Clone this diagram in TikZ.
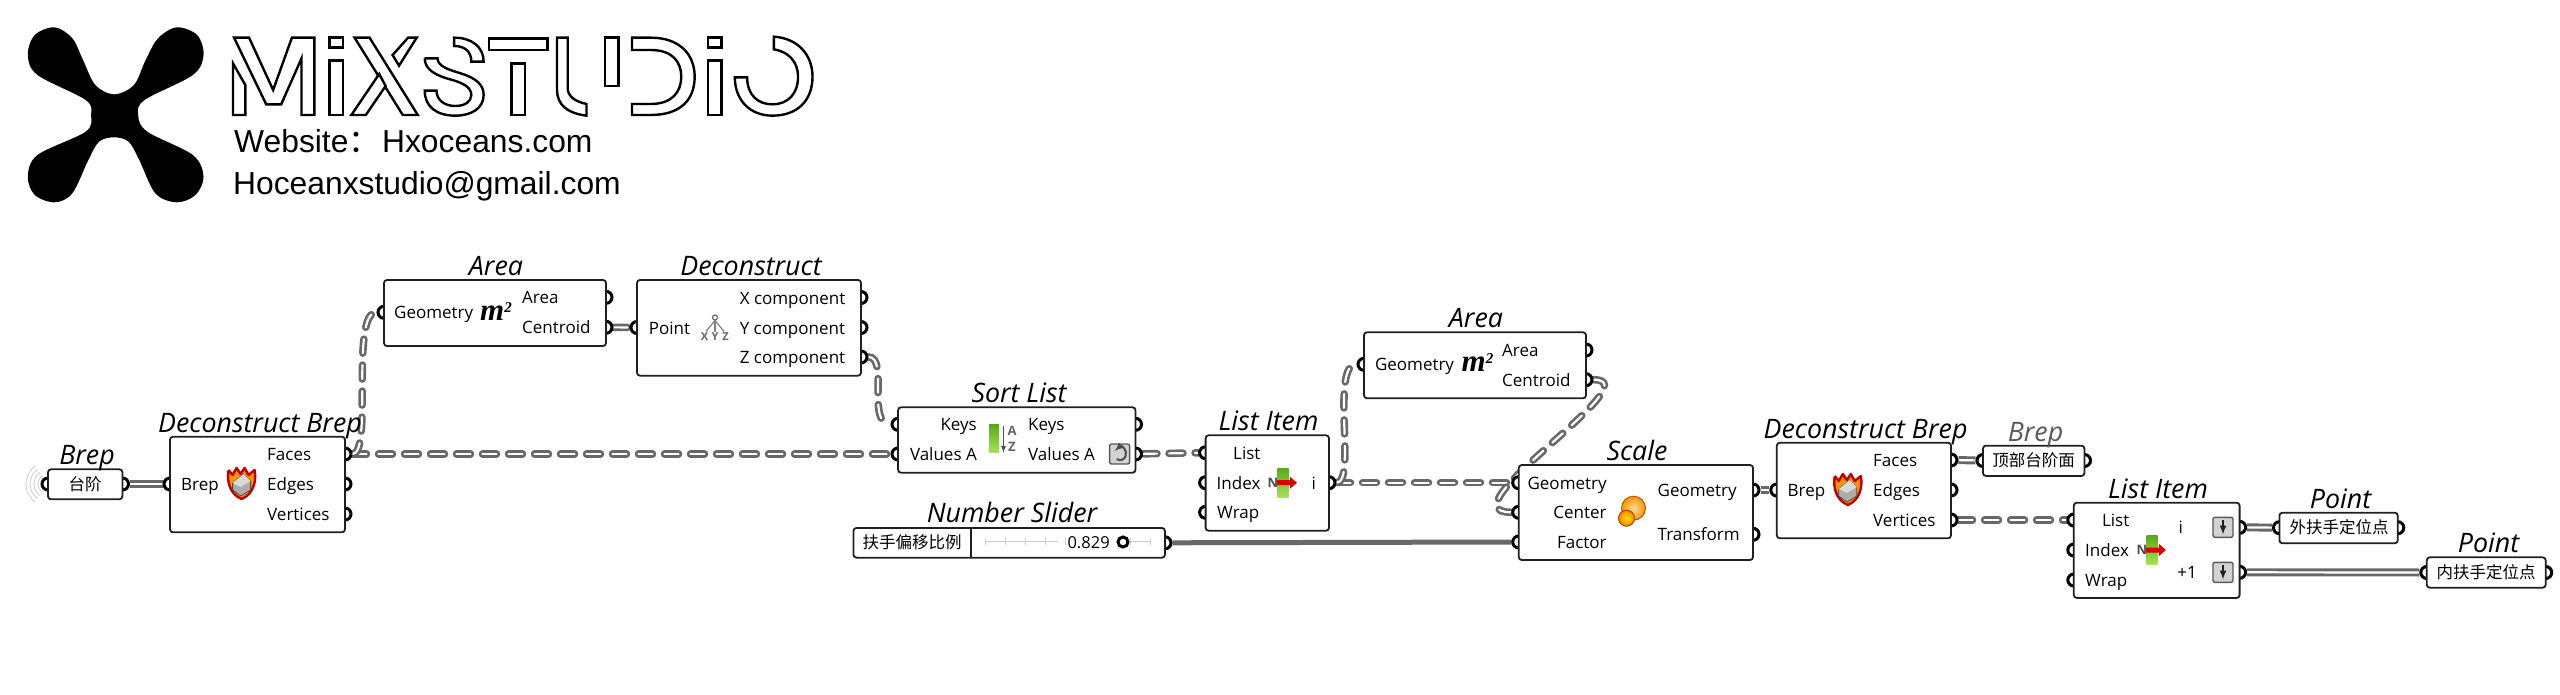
\documentclass[tikz,border=0pt]{standalone}
\usepackage{fontspec}
\setmainfont{Open Sans}
\newfontfamily\cjkfont{Noto Sans CJK SC}
\newfontfamily\webfont{Liberation Sans}
\newfontfamily\areafont{Liberation Serif}
\usetikzlibrary{backgrounds}
\definecolor{wiregray}{HTML}{686868}
\definecolor{boxline}{HTML}{202020}
\definecolor{bardark}{HTML}{5AA81A}
\definecolor{barlight}{HTML}{A8E25A}
\tikzset{>=latex}
\tikzset{
  compbox/.style={draw=boxline, fill=white, line width=1.8pt, rounded corners=3pt, inner sep=0pt},
  portnode/.style={circle, draw=black, fill=white, line width=3pt, minimum size=12pt, inner sep=0pt},
  portl/.style={anchor=west, inner sep=0pt, text height=15pt, text depth=2pt, font=\fontsize{17}{17}\selectfont},
  portr/.style={anchor=east, inner sep=0pt, text height=15pt, text depth=2pt, font=\fontsize{17}{17}\selectfont},
  paramtxt/.style={inner sep=0pt, font=\cjkfont\fontsize{16.5}{17}\selectfont},
  titlelbl/.style={inner sep=0pt, text height=25pt, text depth=3pt, font=\itshape\fontsize{26.8}{27}\selectfont},
  weblbl/.style={anchor=west, inner sep=0pt, font=\webfont\fontsize{31.8}{32}\selectfont},
  logopart/.style={draw=black, fill=white, line width=2.4pt, line join=miter},
  listwire/.style={draw=wiregray, line width=7.5pt, line cap=round, dash pattern=on 14pt off 12pt,
    postaction={draw=white, line width=2.2pt, line cap=round, dash pattern=on 14pt off 12pt}},
  itemwire/.style={draw=wiregray, line width=8pt, postaction={draw=white, line width=2.2pt}},
  sliderwire/.style={draw=wiregray, line width=5pt},
  btnbox/.pic={
    \fill[draw=gray!70!black, fill=gray!35, rounded corners=2pt, line width=1.4pt] (-10,-10) rectangle (10,10);
  },
  downbtn/.pic={
    \pic {btnbox};
    \draw[->, gray!25!black, line width=2pt] (0,-7) -- (0,7);
  },
  backbtn/.pic={
    \pic {btnbox};
    \draw[<-, gray!60!black, line width=2pt] (-5,-3) .. controls (2,-9) and (8,-4) .. (6,2) .. controls (5,6) and (0,7) .. (-3,5);
  },
  flameicon/.pic={
    \fill[draw=red!75!black, fill=orange!85!yellow, line width=2.4pt, line join=round] (-13,-14) -- (-9,-9) -- (-5,-16) -- (-1,-10) -- (3,-16) -- (7,-9) -- (13,-14) .. controls (15,-3) and (12,10) .. (0,15) .. controls (-12,10) and (-15,-3) .. (-13,-14);
    \fill[draw=black!70, fill=gray!65, line width=0.8pt] (-9,-1) -- (2,-10) -- (9,-3) -- (9,6) -- (-1,12) -- (-9,6) -- cycle;
    \fill[white!70!gray] (-9,-1) -- (2,-10) -- (9,-3) -- (-1,3) -- cycle;
  },
  listicon/.pic={
    \shade[top color=bardark, bottom color=barlight] (-5.5,-14.5) rectangle (5.5,14.5);
    \fill[red!85!black] (-6,-2.5) -- (7,-2.5) -- (7,-6) -- (14,0) -- (7,6) -- (7,2.5) -- (-6,2.5) -- cycle;
    \node[inner sep=0pt, text=black!70, font=\bfseries\fontsize{13}{13}\selectfont] (nmark) at (-10,0) {N};
  },
  sorticon/.pic={
    \shade[top color=bardark, bottom color=barlight] (-13,-14) rectangle (-3,14);
    \draw[->, black!70, line width=1.2pt] (1.5,-13) -- (1.5,14);
    \node[inner sep=0pt, text=black!60, font=\bfseries\fontsize{13}{13}\selectfont] (amark) at (10,-8) {A};
    \node[inner sep=0pt, text=black!60, font=\bfseries\fontsize{13}{13}\selectfont] (zmark) at (10,8) {Z};
  },
  xyzicon/.pic={
    \draw[gray, line width=1.2pt] (0,-7) -- (-9,4);
    \draw[gray, line width=1.2pt] (0,-7) -- (0,4);
    \draw[gray, line width=1.2pt] (0,-7) -- (9,4);
    \filldraw[draw=black!60, fill=white, line width=1.2pt] (0,-10) circle[radius=2.5pt];
    \node[inner sep=0pt, text=black!60, font=\bfseries\fontsize{11}{11}\selectfont] (xmark) at (-10.5,9) {X};
    \node[inner sep=0pt, text=black!60, font=\bfseries\fontsize{11}{11}\selectfont] (ymark) at (0,9) {Y};
    \node[inner sep=0pt, text=black!60, font=\bfseries\fontsize{11}{11}\selectfont] (zymark) at (10.5,9) {Z};
  },
  scaleicon/.pic={
    \shade[inner color=yellow!30!orange!40, outer color=orange!85!yellow] (2,-3.5) circle[radius=12pt];
    \draw[orange!70!black, line width=1pt] (2,-3.5) circle[radius=12pt];
    \shade[inner color=yellow!80!orange, outer color=orange] (-5,6.5) circle[radius=8pt];
    \draw[orange!60!black, line width=1pt] (-5,6.5) circle[radius=8pt];
  },
  sqmark/.style={inner sep=0pt, font=\areafont\bfseries\itshape\fontsize{31}{31}\selectfont}
}

\begin{document}
\begin{tikzpicture}[x=1pt, y=-1pt]
\useasboundingbox (0,0) rectangle (2560,694);

% Logo
\begin{scope}[x=0.5356pt, y=-0.3333pt]
  \fill[black] plot[smooth cycle, tension=0.55] coordinates {(213,283) (250,255) (272,180) (295,115) (330,82) (368,105) (380,165) (360,225) (270,300) (258,345) (275,395) (360,465) (380,530) (365,585) (330,607) (290,580) (260,480) (240,425) (213,412) (185,425) (165,480) (135,580) (102,607) (65,585) (52,530) (70,465) (160,395) (170,345) (160,300) (70,225) (52,165) (65,105) (102,82) (135,115) (155,180) (178,255)};
  % letters
  \draw[logopart] (437,113) -- (465,113) -- (510,270) -- (545,113) -- (587,113) -- (587,345) -- (563,345) -- (563,175) -- (525,313) -- (497,313) -- cycle;
  \draw[logopart] (435,190) -- (458,255) -- (458,345) -- (435,345) -- cycle;
  \foreach \x in {615, 1322}{
    \draw[logopart] (\x,113) rectangle (\x+25,143);
    \draw[logopart] (\x,182) rectangle (\x+25,345);
  }
  \draw[logopart] (662,113) -- (690,113) -- (780,345) -- (752,345) -- cycle;
  \draw[logopart] (708,222) -- (720,258) -- (683,345) -- (656,345) -- cycle;
  \draw[logopart] (762,113) -- (778,113) -- (745,197) -- (733,165) -- cycle;
  \draw[logopart] (848,113) .. controls (880,113) and (903,140) .. (903,185) -- (880,185) .. controls (880,155) and (868,138) .. (848,138) -- cycle;
  \draw[logopart] (793,175) -- (817,175) .. controls (817,200) and (840,210) .. (860,220) .. controls (890,235) and (903,255) .. (903,285) .. controls (903,325) and (880,347) .. (850,347) .. controls (815,347) and (793,320) .. (793,272) -- (815,272) .. controls (815,300) and (830,318) .. (850,318) .. controls (868,318) and (880,305) .. (880,285) .. controls (880,262) and (865,250) .. (845,240) .. controls (815,228) and (793,210) .. (793,175);
  \draw[logopart] (913,115) rectangle (1022,150);
  \draw[logopart] (955,190) rectangle (980,345);
  \draw[logopart] (1040,113) -- (1060,113) -- (1060,265) .. controls (1060,290) and (1075,305) .. (1095,312) -- (1095,347) .. controls (1060,340) and (1040,315) .. (1040,270) -- cycle;
  \draw[logopart] (1130,113) rectangle (1155,258);
  \draw[logopart] (1180,113) -- (1215,113) .. controls (1270,113) and (1297,165) .. (1297,230) .. controls (1297,300) and (1270,345) .. (1215,345) -- (1180,345) -- (1180,312) -- (1215,312) .. controls (1255,312) and (1272,275) .. (1272,230) .. controls (1272,185) and (1255,150) .. (1215,150) -- (1180,150) -- cycle;
  \draw[logopart] (1445,110) .. controls (1490,115) and (1517,165) .. (1517,230) .. controls (1517,300) and (1490,347) .. (1442,347) .. controls (1400,347) and (1372,300) .. (1372,232) -- (1395,232) .. controls (1395,285) and (1415,313) .. (1442,313) .. controls (1472,313) and (1490,280) .. (1490,230) .. controls (1490,185) and (1472,155) .. (1445,148) -- cycle;
\end{scope}
\node[weblbl] (website) at (234,141) {Website{\cjkfont：}\hspace{-7pt} Hxoceans.com};
\node[weblbl] (mail) at (233,186) {Hoceanxstudio@gmail.com};

% Ports
\foreach \pname/\px/\py in {brpi/48/484, brpo/122.5/484,
    dbai/170/484, dbaf/345/454, dbae/345/484, dbav/345/514,
    araig/384/312.3, araa/606/297.3, arac/606/327.3,
    dcnp/637/327.5, dcnx/861/297.5, dcny/861/327.5, dcnz/861/357,
    srtk/898/424.3, srtv/898/454, srtok/1135.5/424.3, srtov/1135.5/454,
    slido/1165/542.8,
    lsal/1205.6/452.7, lsai/1205.6/482.7, lsaw/1205.6/512.3, lsao/1329/482.7,
    arbg/1364/364.3, arba/1586/350, arbc/1586/379.7,
    sclg/1518.7/482.7, sclc/1518.7/512.3, sclf/1518.7/542, sclog/1753/490, sclot/1753/534.3,
    dbbi/1776.8/490, dbbf/1951/460, dbbe/1951/490, dbbv/1951/520,
    brbi/1983/460.5, brbo/2084.5/460.5,
    lsbl/2073.8/520, lsbi/2073.8/550, lsbw/2073.8/580, lsbo/2239.6/527.3, lsbp/2239.6/572.3,
    ptai/2279.4/527.7, ptao/2397.8/527.7, ptbi/2426.8/572.5, ptbo/2545.7/572.5}{
  \node[portnode] (\pname) at (\px,\py) {};
}

% Radio waves on the first parameter
\foreach \r in {10, 14, 18, 22}{
  \draw[gray!40, line width=0.8pt] ([shift={(125:\r pt)}]brpi.center) arc (125:235:\r pt);
}

% Components
\node[compbox, minimum width=74.4pt, minimum height=30pt] (brep) at (85.2,484.3) {};
\node[compbox, minimum width=175pt, minimum height=95.6pt] (dba) at (257.5,484.5) {};
\node[compbox, minimum width=222pt, minimum height=66pt] (arna) at (495,313) {};
\node[compbox, minimum width=224pt, minimum height=95.7pt] (dcn) at (749,327.8) {};
\node[compbox, minimum width=237.5pt, minimum height=65.4pt] (srt) at (1016.8,440) {};
\node[compbox, minimum width=311.5pt, minimum height=29.7pt] (slid) at (1009.2,542.8) {};
\node[compbox, minimum width=123.4pt, minimum height=95.4pt] (lsa) at (1267.3,483) {};
\node[compbox, minimum width=222pt, minimum height=66pt] (arnb) at (1475,365.3) {};
\node[compbox, minimum width=234.3pt, minimum height=95pt] (scl) at (1635.9,512.5) {};
\node[compbox, minimum width=174.2pt, minimum height=95.6pt] (dbb) at (1863.9,490.5) {};
\node[compbox, minimum width=101.5pt, minimum height=30.3pt] (brb) at (2033.7,460.8) {};
\node[compbox, minimum width=165.8pt, minimum height=95.3pt] (lsb) at (2156.7,550.3) {};
\node[compbox, minimum width=118.4pt, minimum height=30.6pt] (pta) at (2338.6,528) {};
\node[compbox, minimum width=118.9pt, minimum height=30.4pt] (ptb) at (2486.2,572.5) {};
\draw[boxline, line width=1.8pt] (971,528) -- (971,557.6);

% Titles
\foreach \tname/\tx/\ty/\ttext in {tbrp/87/453/Brep, tdba/260/421/Deconstruct Brep, tara/496/264/Area,
    tdcn/751/264/Deconstruct, tsrt/1019/391/Sort List, tsld/1012/511.7/Number Slider,
    tlsa/1268.5/419.3/List Item, tarb/1476/316.7/Area, tscl/1637/449.3/Scale,
    tdbb/1865.6/427.7/Deconstruct Brep, tlsb/2158/487.3/List Item,
    tpta/2340.6/497.3/Point, tptb/2488.6/541.7/Point}{
  \node[titlelbl] (\tname) at (\tx,\ty) {\ttext};
}
\node[titlelbl, text=black!65] (tbrb) at (2035.5,430.7) {Brep};

% Port names
\foreach \lname/\lx/\ly/\ltext in {lba/181/484/Brep, lbb/267/454/Faces, lbc/267/484/Edges, lbd/267/514/Vertices,
    lca/394/312.3/Geometry, lcb/522/297.3/Area, lcc/522/327.3/Centroid,
    lda/648.6/327.5/Point, ldb/739.6/297.5/X component, ldc/739.6/327.5/Y component, ldd/739.6/357/Z component,
    lea/1028/424.3/Keys, leb/1028/454/Values A,
    lfa/1233/452.7/List, lfb/1216.5/482.7/Index, lfc/1217/512.3/Wrap,
    lga/1374.8/364.3/Geometry, lgb/1502/350/Area, lgc/1502/379.7/Centroid,
    lha/1657.5/490/Geometry, lhb/1657.5/534.3/Transform,
    lia/1787.5/490/Brep, lib/1873/460/Faces, lic/1873/490/Edges, lid/1873/520/Vertices,
    lja/2101.8/520/List, ljb/2085/550/Index, ljc/2085/580/Wrap}{
  \node[portl] (\lname) at (\lx,\ly) {\ltext};
}
\foreach \lname/\lx/\ly/\ltext in {lra/977/424.3/Keys, lrb/977/454/Values A,
    lrc/1606.8/482.7/Geometry, lrd/1606.8/512.3/Center, lre/1606.8/542/Factor,
    lrf/1316/482.7/i, lrg/2183/527.3/i, lrh/2197/572.3/+1}{
  \node[portr] (\lname) at (\lx,\ly) {\ltext};
}

% Parameter texts
\node[paramtxt] (ptxa) at (85,484) {台阶};
\node[paramtxt] (ptxb) at (912,542.5) {扶手偏移比例};
\node[paramtxt] (ptxc) at (2033.7,460.5) {顶部台阶面};
\node[paramtxt] (ptxd) at (2339,527.5) {外扶手定位点};
\node[paramtxt] (ptxe) at (2486,572.5) {内扶手定位点};

% Slider
\foreach \tx in {985, 1005, 1025, 1045, 1065, 1130, 1150}{
  \draw[gray!40, line width=0.7pt] (\tx,538) -- (\tx,545);
}
\draw[gray!40, line width=0.7pt] (985,541.7) -- (1058,541.7);
\draw[gray!40, line width=0.7pt] (1130,541.7) -- (1150.6,541.7);
\node[portl, font=\fontsize{16.5}{17}\selectfont, anchor=center] (sval) at (1088.6,541.7) {0.829};
\node[portnode, minimum size=10pt] (sknob) at (1123,542) {};

% Icons
\pic at (241.6,484) {flameicon};
\pic at (1847.8,490) {flameicon};
\node[sqmark] (msqa) at (496,311.7) {m\raisebox{8pt}{\fontsize{15}{15}\selectfont 2}};
\node[sqmark] (msqb) at (1477.5,363) {m\raisebox{8pt}{\fontsize{15}{15}\selectfont 2}};
\pic at (715,327.5) {xyzicon};
\pic at (1002,438.5) {sorticon};
\pic at (1283,482.7) {listicon};
\pic at (2152,550) {listicon};
\pic at (1631.5,511.7) {scaleicon};
\pic at (1119.6,454) {backbtn};
\pic at (2223,527.3) {downbtn};
\pic at (2223,572.3) {downbtn};

% Wires
\begin{scope}[on background layer]
  \draw[itemwire] (brpo) -- (dbai);
  \draw[listwire] (dbaf) -- (srtv);
  \draw[listwire] (dbaf) .. controls +(28,0) and +(-34,0) .. (araig);
  \draw[listwire] (arac) -- (dcnp);
  \draw[listwire] (dcnz) .. controls +(28,0) and +(-32,0) .. (srtk);
  \draw[listwire] (srtov) -- (lsal);
  \draw[listwire] (lsao) -- (sclg);
  \draw[listwire] (lsao) .. controls +(28,0) and +(-34,0) .. (arbg);
  \draw[listwire] (arbc) .. controls +(68,0) and +(-78,0) .. (sclc);
  \draw[sliderwire] (slido) -- (sclf);
  \draw[itemwire] (sclog) -- (dbbi);
  \draw[itemwire] (dbbf) -- (brbi);
  \draw[listwire] (dbbv) -- (lsbl);
  \draw[itemwire] (lsbo) -- (ptai);
  \draw[itemwire] (lsbp) -- (ptbi);
\end{scope}

\end{tikzpicture}
\end{document}
